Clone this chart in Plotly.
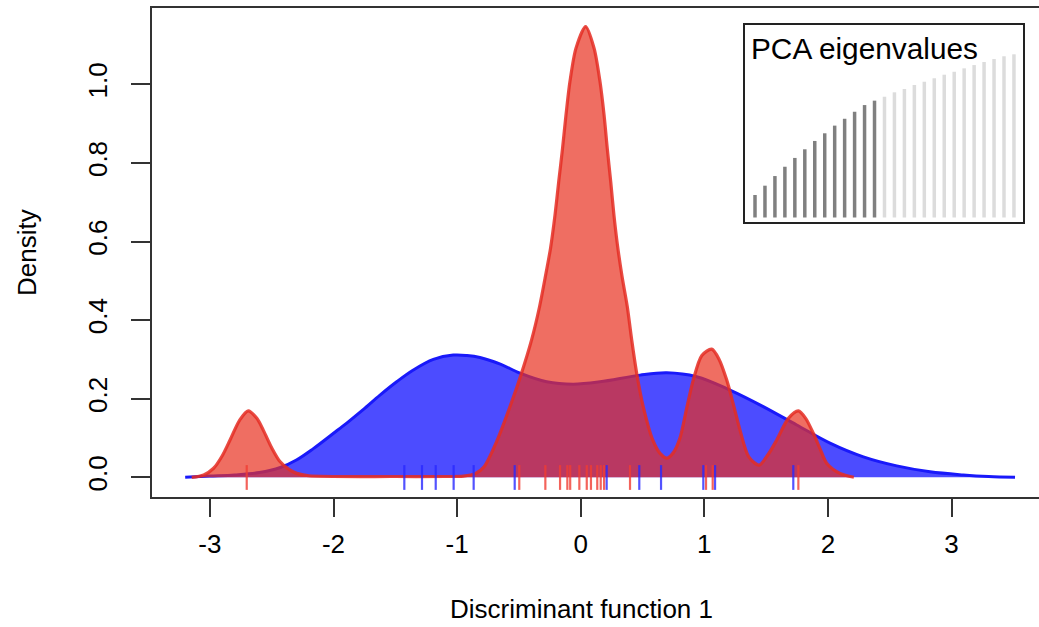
import plotly.graph_objects as go

# ---------------- data ----------------
# density curve of group 1 (blue)
blue_x = [-3.20, -3.00, -2.80, -2.60, -2.43, -2.30, -2.163, -2.00, -1.893, -1.76,
          -1.624, -1.489, -1.354, -1.192, -1.031, -0.92, -0.815, -0.65, -0.491, -0.275,
          -0.06, 0.156, 0.48, 0.696, 0.938, 1.208, 1.477, 1.748, 2.017, 2.287,
          2.557, 2.826, 3.095, 3.30, 3.514]
blue_y = [0.0, 0.003, 0.006, 0.012, 0.025, 0.044, 0.073, 0.112, 0.138, 0.172,
          0.209, 0.243, 0.273, 0.300, 0.311, 0.310, 0.305, 0.288, 0.265, 0.243,
          0.237, 0.243, 0.260, 0.266, 0.256, 0.222, 0.180, 0.133, 0.087, 0.052,
          0.029, 0.014, 0.006, 0.002, 0.0]

# density curve of group 2 (red)
red_x = [-3.147, -3.05, -2.97, -2.90, -2.837, -2.76, -2.69, -2.62, -2.568, -2.50,
         -2.433, -2.36, -2.298, -2.20, -1.50, -1.10, -0.95, -0.85, -0.782, -0.675,
         -0.572, -0.479, -0.398, -0.333, -0.281, -0.244, -0.208, -0.178, -0.147, -0.119,
         -0.087, -0.038, 0.040, 0.108, 0.156, 0.189, 0.215, 0.243, 0.269, 0.296,
         0.334, 0.377, 0.413, 0.453, 0.506, 0.583, 0.642, 0.70, 0.75, 0.803,
         0.86, 0.911, 0.98, 1.06, 1.12, 1.181, 1.24, 1.289, 1.36, 1.443,
         1.52, 1.586, 1.68, 1.761, 1.82, 1.882, 1.94, 1.99, 2.098, 2.21]
red_y = [0.0, 0.006, 0.023, 0.055, 0.095, 0.145, 0.169, 0.150, 0.120, 0.075,
         0.040, 0.020, 0.010, 0.004, 0.002, 0.002, 0.003, 0.010, 0.027, 0.095,
         0.180, 0.265, 0.349, 0.434, 0.519, 0.583, 0.667, 0.752, 0.837, 0.922,
         1.007, 1.092, 1.147, 1.092, 1.007, 0.922, 0.837, 0.752, 0.667, 0.594,
         0.512, 0.434, 0.349, 0.265, 0.180, 0.095, 0.061, 0.049, 0.063, 0.100,
         0.180, 0.248, 0.310, 0.326, 0.300, 0.248, 0.180, 0.120, 0.052, 0.031,
         0.060, 0.095, 0.150, 0.169, 0.150, 0.112, 0.070, 0.036, 0.010, 0.0]

# individual scores (rug)
blue_rug = [-1.427, -1.284, -1.173, -1.028, -0.866, -0.534, 0.210, 0.474, 0.650,
            0.992, 1.087, 1.720]
red_rug = [-2.702, -0.497, -0.286, -0.167, -0.108, -0.085, -0.011, 0.049, 0.083,
           0.134, 0.162, 0.189, 0.399, 1.014, 1.068, 1.761]

# PCA eigenvalues inset (cumulative, relative units)
eig_values = [13.8, 19.5, 25.4, 31.1, 36.5, 41.8, 46.9, 51.6, 56.3, 60.5, 64.8, 68.9, 71.6,
              74.0, 76.7, 78.7, 81.2, 83.2, 85.3, 87.5, 89.3, 91.4, 93.4, 95.3, 97.1, 98.8, 100.0]
n_retained = 13

x_ticks = [-3, -2, -1, 0, 1, 2, 3]
x_ticktext = ["-3", "-2", "-1", "0", "1", "2", "3"]
y_ticks = [0.0, 0.2, 0.4, 0.6, 0.8, 1.0]
y_ticktext = ["0.0", "0.2", "0.4", "0.6", "0.8", "1.0"]

# ---------------- layout constants (pixels) ----------------
W, H = 1039, 627
L, R, T, B = 152, 0, 8, 130
PW, PH = W - L - R, H - T - B
FONT = "Liberation Sans, Arial, Helvetica, sans-serif"

def px_x(p):
    return (p - L) / PW

def px_y(p):
    return (H - B - p) / PH

fig = go.Figure()

# blue density
fig.add_trace(go.Scatter(
    x=blue_x, y=blue_y, mode="lines", fill="tozeroy",
    line=dict(color="rgb(25,25,250)", width=3, shape="spline", smoothing=1.0),
    fillcolor="rgba(0,0,255,0.70)", hoverinfo="skip", showlegend=False))

# red density
fig.add_trace(go.Scatter(
    x=red_x, y=red_y, mode="lines", fill="tozeroy",
    line=dict(color="rgba(228,45,35,0.85)", width=3.2, shape="spline", smoothing=0.8),
    fillcolor="rgba(232,48,31,0.70)", hoverinfo="skip", showlegend=False))

# rugs
def rug(vals):
    xs, ys = [], []
    for v in vals:
        xs += [v, v, None]
        ys += [-0.032, 0.031, None]
    return xs, ys

bx, by = rug(blue_rug)
fig.add_trace(go.Scatter(x=bx, y=by, mode="lines",
                         line=dict(color="rgba(40,40,255,0.8)", width=2.2),
                         hoverinfo="skip", showlegend=False))
rx, ry = rug(red_rug)
fig.add_trace(go.Scatter(x=rx, y=ry, mode="lines",
                         line=dict(color="rgba(240,60,50,0.8)", width=2.2),
                         hoverinfo="skip", showlegend=False))

# inset eigenvalue bars
def bars(idx, vals):
    xs, ys = [], []
    for i, v in zip(idx, vals):
        xs += [i, i, None]
        ys += [0, v, None]
    return xs, ys

idx_all = list(range(1, len(eig_values) + 1))
dx, dy = bars(idx_all[:n_retained], eig_values[:n_retained])
lx, ly = bars(idx_all[n_retained:], eig_values[n_retained:])
fig.add_trace(go.Scatter(x=dx, y=dy, mode="lines", xaxis="x2", yaxis="y2",
                         line=dict(color="rgb(128,128,128)", width=3.5),
                         hoverinfo="skip", showlegend=False))
fig.add_trace(go.Scatter(x=lx, y=ly, mode="lines", xaxis="x2", yaxis="y2",
                         line=dict(color="rgb(220,220,220)", width=3.5),
                         hoverinfo="skip", showlegend=False))

# inset geometry (pixels)
ib_l, ib_r, ib_t, ib_b = 744, 1024, 24, 223
bar0_px, bar_step, bar_base_px, px_per_unit = 755, 9.96, 217.5, 1.632
x2_range = [1 - (bar0_px - ib_l) / bar_step, 1 + (ib_r - bar0_px) / bar_step]
y2_range = [-(ib_b - bar_base_px) / px_per_unit, (bar_base_px - ib_t) / px_per_unit]

axis_col = "#333333"
fig.update_layout(
    width=W, height=H,
    margin=dict(l=L, r=R, t=T, b=B, pad=0),
    plot_bgcolor="white", paper_bgcolor="white",
    font=dict(family=FONT, size=26, color="black"),
    xaxis=dict(range=[(L - 580.7) / 123.6, (W - R - 580.7) / 123.6],
               tickvals=x_ticks, ticktext=x_ticktext, ticks="outside", ticklen=18,
               tickwidth=2, tickcolor=axis_col, showline=True, linecolor=axis_col,
               linewidth=2, mirror=True, showgrid=False, zeroline=False,
               tickfont=dict(family=FONT, size=26), ticklabelstandoff=5),
    yaxis=dict(range=[(477.3 - (H - B)) / 393, (477.3 - T) / 393],
               tickvals=y_ticks, ticktext=y_ticktext, tickangle=-90,
               ticks="outside", ticklen=19, tickwidth=2, tickcolor=axis_col,
               showline=True, linecolor=axis_col, linewidth=2, mirror=False,
               showgrid=False, zeroline=False,
               tickfont=dict(family=FONT, size=26), ticklabelstandoff=14),
    xaxis2=dict(domain=[px_x(ib_l), px_x(ib_r)], range=x2_range, anchor="y2",
                visible=False, fixedrange=True),
    yaxis2=dict(domain=[px_y(ib_b), px_y(ib_t)], range=y2_range, anchor="x2",
                visible=False, fixedrange=True),
    shapes=[dict(type="rect", xref="paper", yref="paper",
                 x0=px_x(ib_l), x1=px_x(ib_r), y0=px_y(ib_b), y1=px_y(ib_t),
                 line=dict(color="#222222", width=2), fillcolor="rgba(0,0,0,0)")],
    annotations=[
        dict(text="PCA eigenvalues", xref="paper", yref="paper",
             x=px_x(749), y=px_y(48), xanchor="left", yanchor="middle",
             showarrow=False, font=dict(family=FONT, size=29.8, color="black")),
        dict(text="Density", xref="paper", yref="paper",
             x=px_x(27), y=px_y(253), xanchor="center", yanchor="middle",
             textangle=-90, showarrow=False,
             font=dict(family=FONT, size=26, color="black")),
        dict(text="Discriminant function 1", xref="paper", yref="paper",
             x=px_x(581.5), y=px_y(609), xanchor="center", yanchor="middle",
             showarrow=False, font=dict(family=FONT, size=26, color="black")),
    ],
)

fig.write_html("out.html", config={"displayModeBar": False},
               post_script="document.body.style.margin='0px';")
